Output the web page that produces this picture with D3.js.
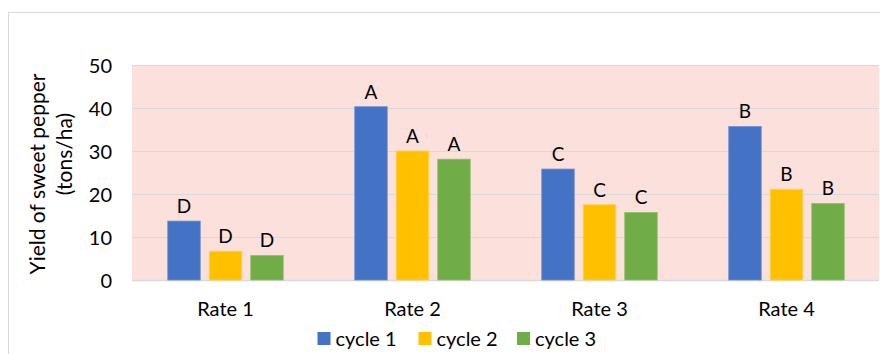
<!DOCTYPE html>
<html>
<head>
<meta charset="utf-8">
<script src="https://cdn.jsdelivr.net/npm/d3@7"></script>
<style>
  html, body { margin: 0; padding: 0; background: #fff; }
  svg { display: block; }
  text { font-family: Lato, "Open Sans", sans-serif; fill: #000; }
</style>
</head>
<body>
<svg id="chart" width="880" height="354"></svg>
<script>
const categories = ["Rate 1", "Rate 2", "Rate 3", "Rate 4"];
const seriesNames = ["cycle 1", "cycle 2", "cycle 3"];
const cycle1 = [13.7, 40.3, 25.8, 35.7];
const cycle2 = [6.7, 30.0, 17.5, 21.1];
const cycle3 = [5.7, 28.1, 15.7, 17.8];
const letters1 = ["D", "A", "C", "B"];
const letters2 = ["D", "A", "C", "B"];
const letters3 = ["D", "A", "C", "B"];
const yTicks = [0, 10, 20, 30, 40, 50];
const yTitle = ["Yield of sweet pepper", "(tons/ha)"];
const colors = ["#4472C4", "#FFC000", "#70AD47"];
const strokeColors = ["#6f8fd0", "#ffd24d", "#8fc06e"];

const values = [cycle1, cycle2, cycle3];
const letters = [letters1, letters2, letters3];

const FONT = "Lato, 'Open Sans', sans-serif";
const svg = d3.select("#chart");
const plot = { left: 132, right: 880, top: 65, bottom: 280 };

// outer border
svg.append("path")
  .attr("d", `M8.5,354 V12.5 H880`)
  .attr("fill", "none").attr("stroke", "#d9d9d9").attr("stroke-width", 1);

const x = d3.scaleBand().domain(categories).range([plot.left, plot.right]).paddingInner(0).paddingOuter(0);
const y = d3.scaleLinear().domain([0, 50]).range([plot.bottom, plot.top]);
const xs = d3.scaleBand().domain(seriesNames).range([-57.75, 57.75]).paddingInner(9 / 41.5).paddingOuter(0);

// plot background
svg.append("rect")
  .attr("x", plot.left).attr("y", plot.top)
  .attr("width", plot.right - plot.left - 1).attr("height", plot.bottom - plot.top)
  .attr("fill", "#fce0dc");

// gridlines
svg.append("g").selectAll("line").data(yTicks).join("line")
  .attr("x1", plot.left).attr("x2", plot.right - 1)
  .attr("y1", d => Math.round(y(d)) + 0.5).attr("y2", d => Math.round(y(d)) + 0.5)
  .attr("stroke", "#d9d9d9").attr("stroke-width", d => d === 0 ? 1.5 : 1);

// y axis labels
const yAxis = d3.axisLeft(y).tickValues(yTicks).tickSize(0).tickPadding(0);
const yg = svg.append("g").attr("transform", `translate(112,0)`).call(yAxis);
yg.select(".domain").remove();
yg.selectAll("text").attr("font-size", 20).attr("dy", "0.36em").style("font-family", FONT).attr("fill", "#000");

// y title (two lines)
const titleCenters = [174, 154];
const titleBaselines = [45, 72];
yTitle.forEach((t, i) => {
  svg.append("text")
    .attr("transform", `translate(${titleBaselines[i]},${titleCenters[i]}) rotate(-90)`)
    .attr("text-anchor", "middle").attr("font-size", 21)
    .text(t);
});

// bars
const groups = svg.append("g").selectAll("g").data(categories).join("g")
  .attr("transform", d => `translate(${x(d) + x.bandwidth() / 2},0)`);

seriesNames.forEach((s, si) => {
  groups.append("rect")
    .attr("x", xs(s)).attr("width", xs.bandwidth())
    .attr("y", (d, i) => y(values[si][i]))
    .attr("height", (d, i) => y(0) - y(values[si][i]))
    .attr("fill", colors[si]).attr("stroke", strokeColors[si]).attr("stroke-width", 0.8);
  groups.append("text")
    .attr("x", xs(s) + xs.bandwidth() / 2)
    .attr("y", (d, i) => y(values[si][i]) - 8)
    .attr("text-anchor", "middle").attr("font-size", 19)
    .text((d, i) => letters[si][i]);
});

// x axis labels
const xAxis = d3.axisBottom(x).tickSize(0).tickPadding(0);
const xg = svg.append("g").attr("transform", `translate(0,${plot.bottom})`).call(xAxis);
xg.select(".domain").remove();
xg.selectAll("text").attr("dy", 0).attr("y", 35.5).attr("font-size", 20).style("font-family", FONT).attr("fill", "#000");

// legend
const legendX = [317.5, 418.5, 517];
const leg = svg.append("g").selectAll("g").data(seriesNames).join("g")
  .attr("transform", (d, i) => `translate(${legendX[i]},332)`);
leg.append("rect").attr("width", 13).attr("height", 13).attr("fill", (d, i) => colors[i]);
leg.append("text").attr("x", 18).attr("y", 13.5).attr("font-size", 20).text(d => d);
</script>
</body>
</html>
